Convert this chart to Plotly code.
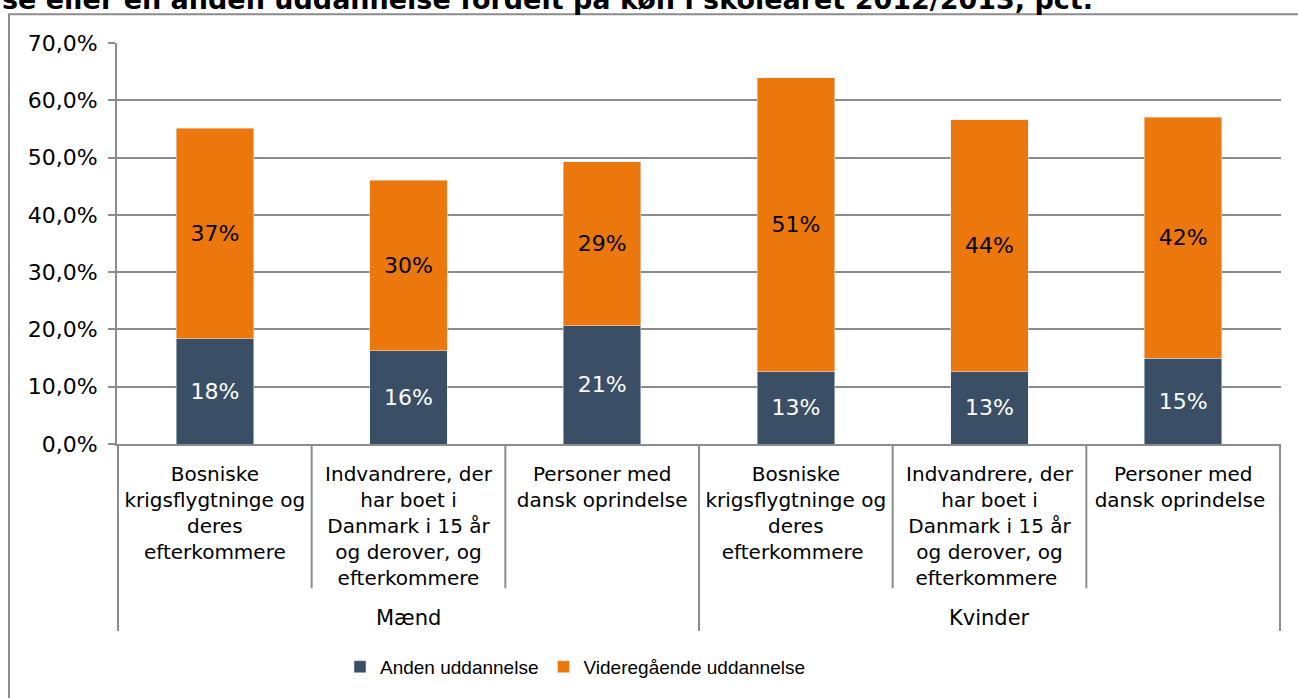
import plotly.graph_objects as go

# categories (inner level) and groups (outer level)
categories = [
    "Bosniske<br>krigsflygtninge og<br>deres<br>efterkommere",
    "Indvandrere, der<br>har boet i<br>Danmark i 15 år<br>og derover, og<br>efterkommere",
    "Personer med<br>dansk oprindelse",
    "Bosniske<br>krigsflygtninge og<br>deres<br>efterkommere ",
    "Indvandrere, der<br>har boet i<br>Danmark i 15 år<br>og derover, og<br>efterkommere ",
    "Personer med<br>dansk oprindelse ",
]
groups = ["Mænd", "Kvinder"]
anden = [18.4, 16.3, 20.6, 12.6, 12.6, 15.0]
videregaaende = [36.7, 29.7, 28.7, 51.3, 44.0, 42.0]
series_names = ["Anden uddannelse", "Videregående uddannelse"]
colors = ["#3A4F65", "#EC770C"]
title_text = "se eller en anden uddannelse fordelt på køn i skoleåret 2012/2013, pct."

FONT = "DejaVu Sans"
LEGEND_FONT = "Liberation Sans"
W, H = 1298, 698
L, R, T, B = 117, 17, 43, 252
pw, ph = W - L - R, H - T - B
GRID = "#8C8C8C"


def px_x(p):
    return (p - L) / pw


def px_y(p):
    return (H - B - p) / ph


fig = go.Figure()
for name, vals, col, tcol in [(series_names[0], anden, colors[0], "white"),
                              (series_names[1], videregaaende, colors[1], "black")]:
    fig.add_trace(go.Bar(
        x=categories, y=vals, name=name, marker_color=col,
        text=[f"{v:.0f}%" for v in vals], textposition="inside",
        insidetextanchor="middle", textangle=0,
        textfont=dict(family=FONT, size=22, color=tcol),
        hoverinfo="skip",
    ))

# divider lines under the category axis
shapes = []
n = len(categories)
for i in range(n + 1):
    edge = i - 0.5
    long_line = i % 3 == 0
    shapes.append(dict(type="line", xref="x", yref="paper",
                       x0=edge, x1=edge, y0=0,
                       y1=px_y(634) if long_line else px_y(591),
                       line=dict(color=GRID, width=2)))
# outer frame
shapes.append(dict(type="rect", xref="paper", yref="paper",
                   x0=px_x(9), x1=px_x(1310), y0=px_y(710), y1=px_y(14),
                   line=dict(color=GRID, width=2), fillcolor="rgba(0,0,0,0)",
                   layer="below"))

annotations = []
for gi, g in enumerate(groups):
    annotations.append(dict(x=gi * 3 + 1, xref="x", y=px_y(621), yref="paper",
                            yanchor="middle", text=g, showarrow=False,
                            font=dict(family=FONT, size=21, color="black")))
annotations.append(dict(x=px_x(0), xref="paper", y=px_y(17), yref="paper",
                        xanchor="left", yanchor="bottom", text="<b>" + title_text + "</b>",
                        showarrow=False, font=dict(family=FONT, size=27, color="black")))

fig.update_layout(
    width=W, height=H,
    margin=dict(l=L, r=R, t=T, b=B),
    barmode="stack", bargap=0.6,
    plot_bgcolor="white", paper_bgcolor="white",
    separators=",.",
    font=dict(family=FONT, size=21, color="black"),
    showlegend=True,
    legend=dict(orientation="h", x=px_x(340), xanchor="left", y=px_y(670), yanchor="middle",
                font=dict(family=LEGEND_FONT, size=19), itemwidth=30, traceorder="normal"),
    shapes=shapes, annotations=annotations,
    xaxis=dict(type="category", showgrid=False, showline=True, linecolor=GRID,
               linewidth=2, ticks="", tickfont=dict(family=FONT, size=20),
               ticklabelstandoff=11, fixedrange=True),
    yaxis=dict(range=[0, 70], dtick=10, tickformat=".1f", ticksuffix="%",
               showgrid=True, gridcolor=GRID, gridwidth=2,
               showline=True, linecolor=GRID, linewidth=2,
               ticks="outside", ticklen=7, tickcolor=GRID, tickwidth=2,
               ticklabelstandoff=6,
               tickfont=dict(family=FONT, size=22), zeroline=False, fixedrange=True),
)

# the page body has a default margin; drop it so the figure sits at the window corner
fig.write_html("out.html", config={"displayModeBar": False},
               post_script="document.body.style.margin='0';")
